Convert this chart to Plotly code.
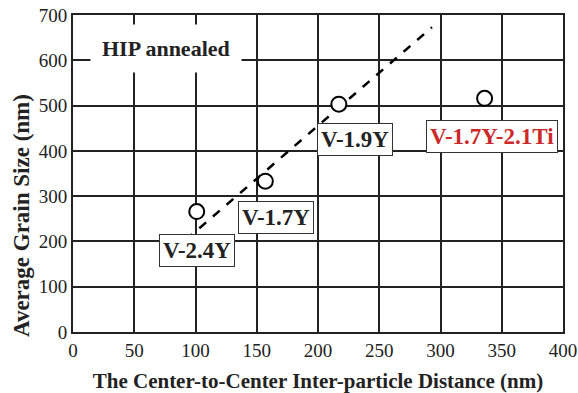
import plotly.graph_objects as go

# Data
distance = [101, 157, 217, 336]
grain_size = [266, 333, 503, 516]
labels = ["V-2.4Y", "V-1.7Y", "V-1.9Y", "V-1.7Y-2.1Ti"]
label_x = [101, 166, 230, 342]
label_y = [179, 252, 424, 431]
label_colors = ["#222222", "#222222", "#222222", "#cc2a2a"]
fit_x = [92, 293]
fit_y = [203, 673]
x_ticks = [0, 50, 100, 150, 200, 250, 300, 350, 400]
y_ticks = [0, 100, 200, 300, 400, 500, 600, 700]

FONT = "Liberation Serif"

fig = go.Figure()
fig.add_trace(go.Scatter(
    x=fit_x, y=fit_y, mode="lines",
    line=dict(color="black", width=2.5, dash="dash"),
    showlegend=False, hoverinfo="skip"))
fig.add_trace(go.Scatter(
    x=distance, y=grain_size, mode="markers",
    marker=dict(symbol="circle", size=15, color="white",
                line=dict(color="black", width=2)),
    showlegend=False))

for t, lx, ly, c in zip(labels, label_x, label_y, label_colors):
    fig.add_annotation(x=lx, y=ly, text="<b>%s</b>" % t, showarrow=False,
                       font=dict(family=FONT, size=23, color=c),
                       bgcolor="white", bordercolor="#333333", borderwidth=1,
                       borderpad=3)

fig.add_annotation(x=76, y=625, text="<b>HIP annealed</b>", showarrow=False,
                   font=dict(family=FONT, size=22, color="#222222"),
                   bgcolor="white", borderpad=11)

# y-axis title (placed slightly below the plot centre, as in the reference)
fig.add_annotation(xref="paper", yref="paper", x=-0.104, y=0.366,
                   text="<b>Average Grain Size (nm)</b>", textangle=-90,
                   showarrow=False, xanchor="center", yanchor="middle",
                   font=dict(family=FONT, size=23, color="#222222"))

fig.update_layout(
    width=578, height=393,
    margin=dict(l=73, r=15, t=15, b=61, autoexpand=False),
    plot_bgcolor="white", paper_bgcolor="white",
    font=dict(family=FONT, size=19, color="#222222"),
    xaxis=dict(range=[0, 400], tickvals=x_ticks, showgrid=True,
               gridcolor="#222222", gridwidth=1.5, zeroline=False,
               showline=True, linecolor="#222222", linewidth=2,
               mirror=True, ticks="", automargin=False,
               title=dict(text="<b>The Center-to-Center Inter-particle Distance (nm)</b>",
                          font=dict(family=FONT, size=21), standoff=14)),
    yaxis=dict(range=[0, 700], tickvals=y_ticks, showgrid=True,
               gridcolor="#222222", gridwidth=1.5, zeroline=False,
               showline=True, linecolor="#222222", linewidth=2,
               mirror=True, ticks="", automargin=False),
)

fig.write_html("out.html")
